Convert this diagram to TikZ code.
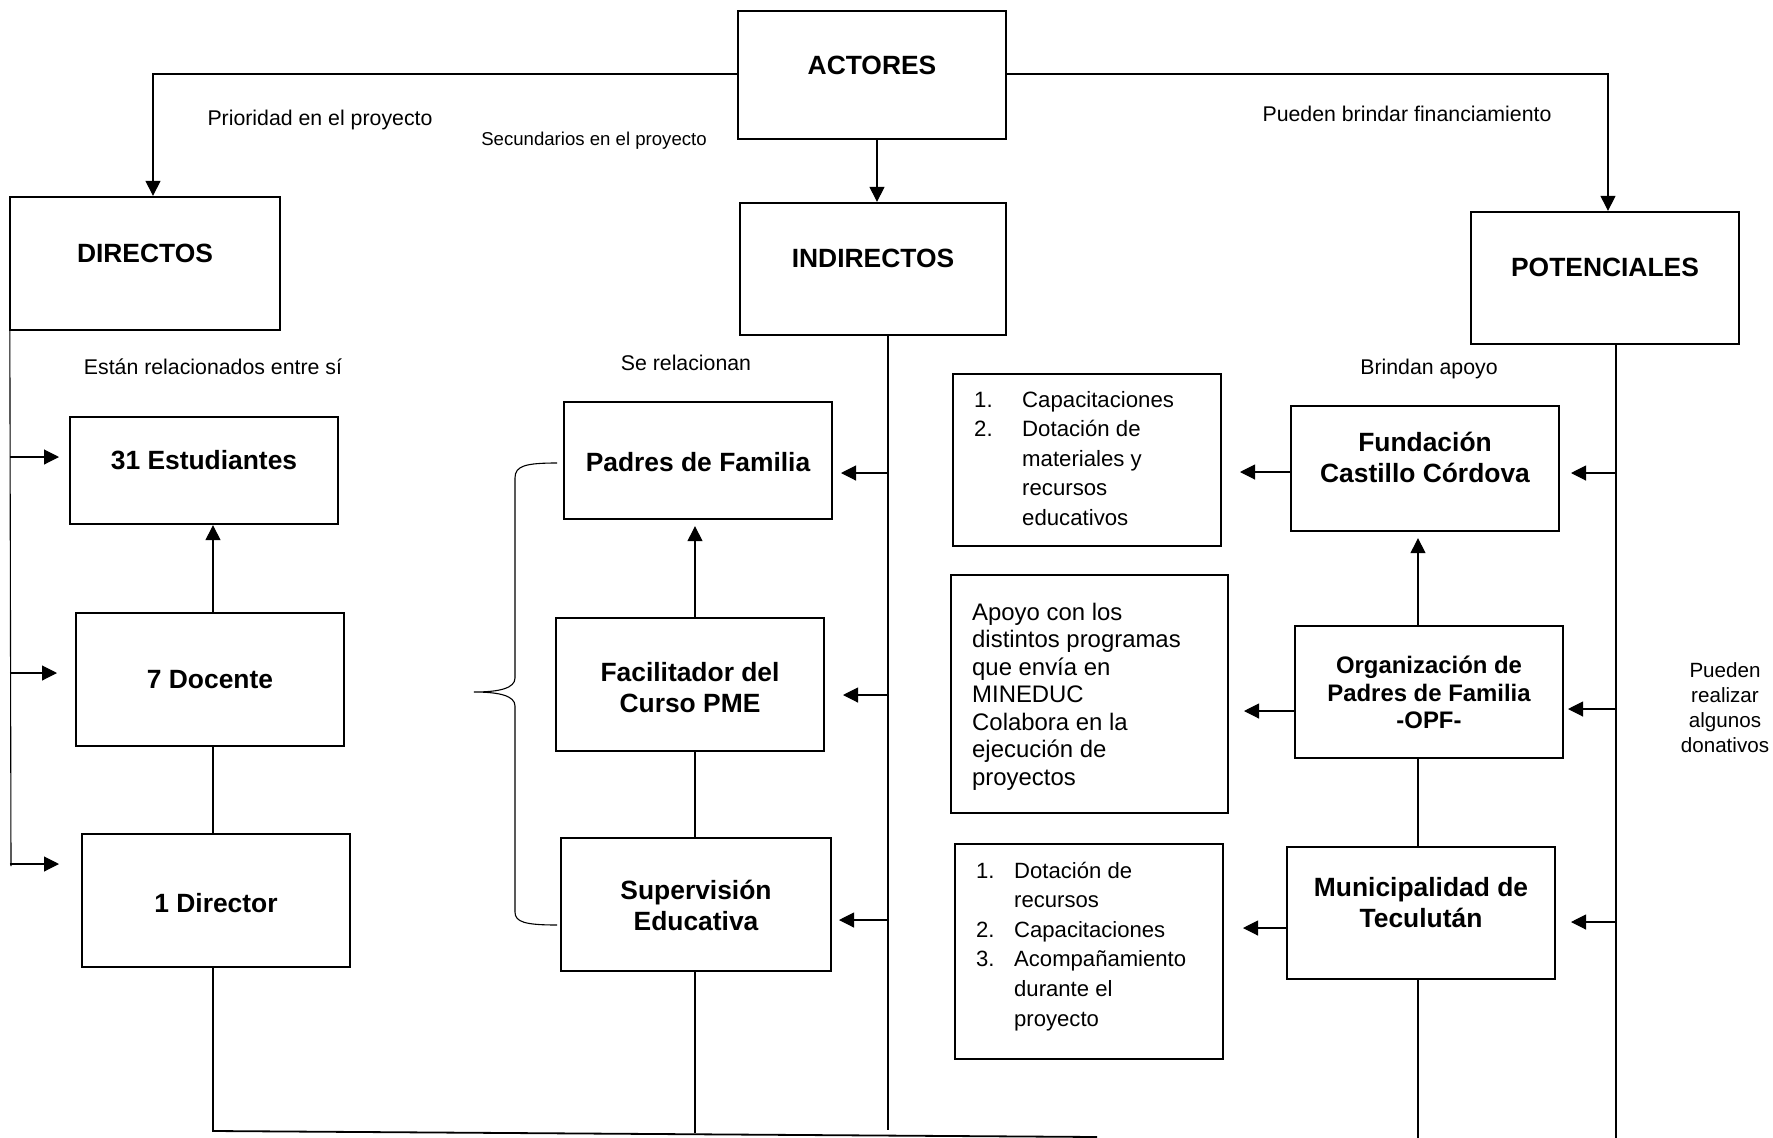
\documentclass[tikz,border=0pt]{standalone}
\usepackage{fontspec}
\setmainfont{Liberation Sans}
\usetikzlibrary{arrows.meta,calc}
\begin{document}
\begin{tikzpicture}[x=1pt,y=-1pt,
  box/.style={draw, line width=2.3pt, rectangle, inner sep=0pt},
  conn/.style={line width=1.1pt},
  arr/.style={conn,-{Triangle[length=15pt,width=15pt]}},
  lbl/.style={inner sep=0pt, anchor=base, font=\fontsize{26.4}{31}\selectfont\bfseries},
  note/.style={inner sep=0pt, anchor=base, font=\fontsize{21.3}{25}\selectfont},
  lst/.style={inner sep=0pt, anchor=base west},
]
\useasboundingbox (0,0) rectangle (1773,1138);

% boxes
\node[box, minimum width=268, minimum height=128] (actores) at (872,75) {};
\node[box, minimum width=270, minimum height=133] (directos) at (145,263.5) {};
\node[box, minimum width=266, minimum height=132] (indirectos) at (873,269) {};
\node[box, minimum width=268, minimum height=132] (potenciales) at (1605,278) {};
\node[box, minimum width=268, minimum height=107] (est) at (204,470.5) {};
\node[box, minimum width=268, minimum height=133] (doc) at (210,679.5) {};
\node[box, minimum width=268, minimum height=133] (dir) at (216,900.5) {};
\node[box, minimum width=268, minimum height=117] (padres) at (698,460.5) {};
\node[box, minimum width=268, minimum height=133] (facil) at (690,684.5) {};
\node[box, minimum width=270, minimum height=133] (sup) at (696,904.5) {};
\node[box, minimum width=268, minimum height=172] (cap) at (1087,460) {};
\node[box, minimum width=268, minimum height=125] (fund) at (1425,468.5) {};
\node[box, minimum width=277, minimum height=238] (apoyo) at (1089.5,694) {};
\node[box, minimum width=268, minimum height=132] (opf) at (1429,692) {};
\node[box, minimum width=268, minimum height=215] (dot) at (1089,951.5) {};
\node[box, minimum width=268, minimum height=132] (muni) at (1421,913) {};

% box texts
\node[lbl] (tActores) at (872,74.5) {ACTORES};
\node[lbl] (tDirectos) at (145,262.5) {DIRECTOS};
\node[lbl] (tIndirectos) at (873,267.5) {INDIRECTOS};
\node[lbl] (tPot) at (1605,276.5) {POTENCIALES};
\node[lbl] (tEst) at (204,469.5) {31 Estudiantes};
\node[lbl] (tDoc) at (210,688.5) {7 Docente};
\node[lbl] (tDir) at (216,912.5) {1 Director};
\node[lbl] (tPadres) at (698,471.5) {Padres de Familia};
\node[lbl] (tFacil) at (690,681.5) {\begin{tabular}[t]{@{}c@{}}Facilitador del\\Curso PME\end{tabular}};
\node[lbl] (tSup) at (696,899.5) {\begin{tabular}[t]{@{}c@{}}Supervisión\\Educativa\end{tabular}};
\node[lbl] (tFund) at (1425,451.5) {\begin{tabular}[t]{@{}c@{}}Fundación\\Castillo Córdova\end{tabular}};
\node[lbl, font=\fontsize{23.9}{27.5}\selectfont\bfseries] (tOPF) at (1429,673.5) {\begin{tabular}[t]{@{}c@{}}Organización de\\Padres de Familia\\-OPF-\end{tabular}};
\node[lbl] (tMuni) at (1421,896.5) {\begin{tabular}[t]{@{}c@{}}Municipalidad de\\Teculután\end{tabular}};

% lists
\node[lst, font=\fontsize{22.2}{29.5}\selectfont] (lCap) at (974,407) {\begin{tabular}[t]{@{}p{48pt}@{}l@{}}1. & Capacitaciones\\2. & Dotación de\\ & materiales y\\ & recursos\\ & educativos\end{tabular}};
\node[lst, font=\fontsize{23.9}{27.5}\selectfont] (lApoyo) at (972,620) {\begin{tabular}[t]{@{}l@{}}Apoyo con los\\distintos programas\\que envía en\\MINEDUC\\Colabora en la\\ejecución de\\proyectos\end{tabular}};
\node[lst, font=\fontsize{22.1}{29.6}\selectfont] (lDot) at (976,878) {\begin{tabular}[t]{@{}p{38pt}@{}l@{}}1. & Dotación de\\ & recursos\\2. & Capacitaciones\\3. & Acompañamiento\\ & durante el\\ & proyecto\end{tabular}};

% notes
\node[note] (nPrior) at (320,125) {Prioridad en el proyecto};
\node[note, font=\fontsize{18.6}{22}\selectfont] (nSec) at (594,145) {Secundarios en el proyecto};
\node[note] (nFin) at (1407,121) {Pueden brindar financiamiento};
\node[note] (nRel) at (213,374) {Están relacionados entre sí};
\node[note] (nSe) at (686,370) {Se relacionan};
\node[note] (nBri) at (1429,374) {Brindan apoyo};
\node[note, font=\fontsize{20.6}{25}\selectfont] (nDon) at (1725,677) {\begin{tabular}[t]{@{}c@{}}Pueden\\realizar\\algunos\\donativos\end{tabular}};

% top connectors
\draw[arr] ([yshift=1pt]actores.west) -| ([xshift=8pt]directos.north);
\draw[arr] ([xshift=5pt]actores.south) -- ([xshift=5pt]actores.south |- indirectos.north);
\draw[arr] ([yshift=1pt]actores.east) -| ([xshift=3pt]potenciales.north);

% left bus
\coordinate (busLend) at (11,866);
\coordinate (tE) at (59,457);
\coordinate (tD) at (57,673);
\coordinate (tR) at (59,864);
\draw[conn] (directos.south west |- directos.south) ++(1,0) coordinate (busL) -- (busLend);
\draw[arr] (busL |- tE) -- (tE);
\draw[arr] (busL |- tD) -- (tD);
\draw[arr] (busL |- tR) -- (tR);
\draw[arr] ([xshift=3pt]doc.north) -- ([xshift=3pt]doc.north |- est.south);
\draw[conn] ([xshift=3pt]doc.south) -- ([xshift=3pt]doc.south |- dir.north);
\coordinate (botL) at (213,1131);
\coordinate (botR) at (1097,1137);
\draw[line width=1.8pt] ([xshift=-3pt]dir.south) -- (botL) -- (botR);

% middle bus
\coordinate (busMend) at (888,1130);
\coordinate (tP) at (841,473);
\coordinate (tF) at (843,695);
\coordinate (tS) at (839,920);
\draw[conn] ([xshift=15pt]indirectos.south) -- (busMend);
\draw[arr] (busMend |- tP) -- (tP);
\draw[arr] (busMend |- tF) -- (tF);
\draw[arr] (busMend |- tS) -- (tS);
\draw[arr, shorten >=6pt] ([xshift=5pt]facil.north) -- ([xshift=5pt]facil.north |- padres.south);
\draw[conn] ([xshift=5pt]facil.south) -- ([xshift=5pt]facil.south |- sup.north);
\coordinate (supEnd) at (695,1133);
\draw[conn] (sup.south -| supEnd) -- (supEnd);

% brace
\draw[conn, line width=1.1pt] (557,463) .. controls (525,463) and (515,466) .. (515,478)
  -- (515,678) .. controls (515,688) and (500,692) .. (474,692)
  .. controls (500,692) and (515,696) .. (515,706)
  -- (515,912) .. controls (515,922) and (525,925) .. (557,925);

% right bus
\coordinate (busRend) at (1616,1138);
\coordinate (tFu) at (1571,473);
\coordinate (tO) at (1568,709);
\coordinate (tM) at (1571,922);
\draw[conn] ([xshift=11pt]potenciales.south) -- (busRend);
\draw[arr] (busRend |- tFu) -- (tFu);
\draw[arr] (busRend |- tO) -- (tO);
\draw[arr] (busRend |- tM) -- (tM);

\coordinate (tC) at (1240,472);
\coordinate (tA) at (1244,711);
\coordinate (tDo) at (1243,928);
\draw[arr] (fund.west |- tC) -- (tC);
\draw[arr] (opf.west |- tA) -- (tA);
\draw[arr] (muni.west |- tDo) -- (tDo);

\draw[arr, shorten >=6pt] ([xshift=-11pt]opf.north) -- ([xshift=-11pt]opf.north |- fund.south);
\draw[conn] ([xshift=-11pt]opf.south) -- ([xshift=-11pt]opf.south |- muni.north);
\coordinate (muniEnd) at (1418,1138);
\draw[conn] (muni.south -| muniEnd) -- (muniEnd);
\end{tikzpicture}
\end{document}
